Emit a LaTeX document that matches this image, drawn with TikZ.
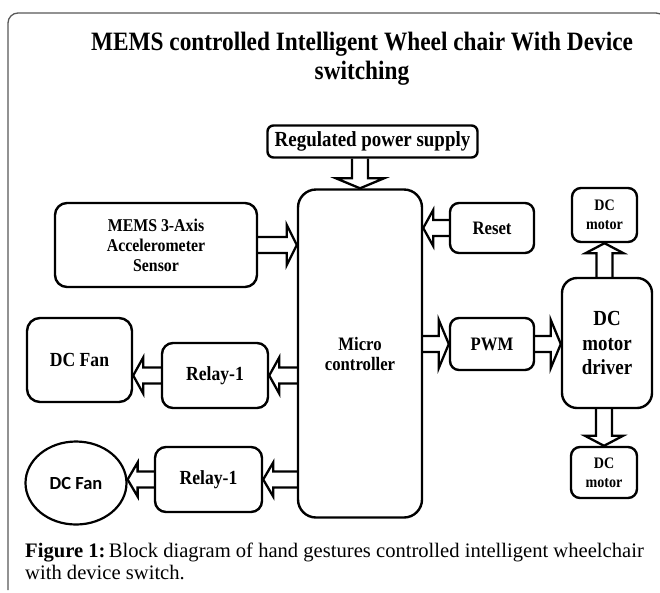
\documentclass[tikz,border=0pt]{standalone}
\usepackage{fontspec}
\setmainfont{Liberation Serif}
\newfontfamily\cb[FakeStretch=0.88]{Liberation Serif}
\newfontfamily\carl{Carlito}
\usetikzlibrary{calc,shapes.geometric}
\newcommand\blockarr[3][20pt]{%
 \draw[arr] ($(#2)!8pt!90:(#3)$) -- ($(#3)!10pt!(#2)!8pt!90:(#3)$)
   -- ($(#3)!10pt!(#2)!#1!90:(#3)$) -- (#3)
   -- ($(#3)!10pt!(#2)!#1!-90:(#3)$) -- ($(#3)!10pt!(#2)!8pt!-90:(#3)$)
   -- ($(#2)!8pt!-90:(#3)$);}
\tikzset{
 box/.style={draw, line width=2.4pt, rounded corners=9pt, inner sep=0pt, align=center,
   font=\cb\bfseries\fontsize{19}{20}\selectfont},
 arr/.style={line width=2.3pt, line join=miter},
 titletext/.style={anchor=base, font=\cb\bfseries\fontsize{26.5}{28}\selectfont},
 captext/.style={anchor=base west, inner sep=0pt, font=\fontsize{20.6}{22}\selectfont},
}
\begin{document}
\begin{tikzpicture}[x=1pt, y=-1pt]
\useasboundingbox (0,0) rectangle (660,592);
\fill[white] (0,0) rectangle (660,592);
\draw[black!65, line width=1.3pt, rounded corners=10pt] (8,590) -- (8,13) -- (666,13) -- (666,600);
% title
\node[titletext] (title1) at (362,50) {MEMS controlled Intelligent Wheel chair With Device};
\node[titletext] (title2) at (362,79) {switching};
% nodes
\node[box, minimum width=210pt, minimum height=32pt, rounded corners=6pt, font=\cb\bfseries\fontsize{21.5}{22}\selectfont] (power) at (372.5,141.5) {Regulated power supply};
\node[box, minimum width=124pt, minimum height=328pt, rounded corners=18pt] (micro) at (360,353.5) {Micro\\controller};
\node[box, minimum width=202pt, minimum height=84pt, rounded corners=12pt, font=\cb\bfseries\fontsize{18}{20}\selectfont] (mems) at (156,245) {MEMS 3-Axis\\Accelerometer\\Sensor};
\node[box, minimum width=84pt, minimum height=50pt] (reset) at (492,228) {Reset};
\node[box, minimum width=65pt, minimum height=54pt, font=\cb\bfseries\fontsize{16}{19}\selectfont] (motor1) at (604.5,215) {DC\\motor};
\node[box, minimum width=90pt, minimum height=130pt, rounded corners=15pt, font=\cb\bfseries\fontsize{21.5}{24.5}\selectfont] (driver) at (607,343) {DC\\motor\\driver};
\node[box, minimum width=84pt, minimum height=52pt] (pwm) at (492,344) {PWM};
\node[box, minimum width=66pt, minimum height=51pt, font=\cb\bfseries\fontsize{16}{19}\selectfont] (motor2) at (604,472.5) {DC\\motor};
\node[box, minimum width=105pt, minimum height=84pt, rounded corners=13pt, font=\cb\bfseries\fontsize{20}{22}\selectfont] (fan1) at (79.5,360) {DC Fan};
\node[box, minimum width=106pt, minimum height=65pt, rounded corners=11pt, font=\cb\bfseries\fontsize{20}{22}\selectfont] (relay1) at (215,375.5) {Relay-1};
\node[box, minimum width=107pt, minimum height=65pt, rounded corners=11pt, font=\cb\bfseries\fontsize{20}{22}\selectfont] (relay2) at (208.5,479.5) {Relay-1};
\node[draw, ellipse, line width=2.2pt, inner sep=0pt, minimum width=101pt, minimum height=83pt, font=\carl\bfseries\fontsize{18.5}{20}\selectfont] (fan2) at (76,483) {DC Fan};
% connectors
\blockarr[24pt]{micro.north |- power.south}{micro.north}
\blockarr{mems.east}{micro.west |- mems.east}
\blockarr[18pt]{reset.west}{micro.east |- reset.west}
\blockarr[24pt]{micro.east |- pwm.west}{pwm.west}
\blockarr[24pt]{pwm.east}{driver.west |- pwm.east}
\blockarr[19pt]{motor1.south |- driver.north}{motor1.south}
\blockarr[19pt]{motor2.north |- driver.south}{motor2.north}
\blockarr[18pt]{micro.west |- relay1.east}{relay1.east}
\blockarr[18pt]{relay1.west}{fan1.east |- relay1.west}
\blockarr[17pt]{micro.west |- relay2.east}{relay2.east}
\blockarr[17pt]{relay2.west}{fan2.east |- relay2.west}
% caption
\node[captext] (cap1) at (25,557) {\textbf{Figure 1:}\,Block diagram of hand gestures controlled intelligent wheelchair};
\node[captext] (cap2) at (25,579) {with device switch.};
\end{tikzpicture}
\end{document}
